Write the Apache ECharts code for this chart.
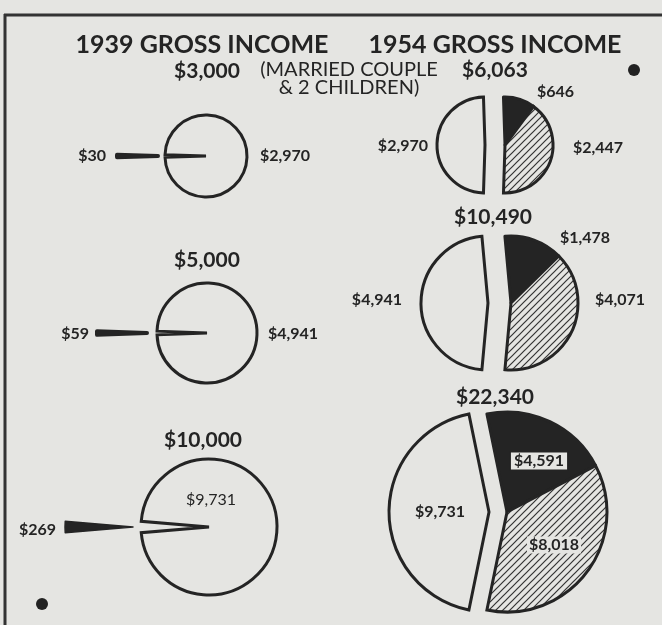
<!DOCTYPE html>
<html>
<head>
<meta charset="utf-8">
<script src="https://cdn.jsdelivr.net/npm/echarts@6/dist/echarts.min.js"></script>
<style>
  html, body { margin: 0; padding: 0; background: #e5e5e2; }
  #main { width: 662px; height: 625px; }
</style>
</head>
<body>
<div id="main"></div>
<script>
// 1939 incomes: what is kept and what goes in tax
const incomes1939 = [3000, 5000, 10000];
const kept1939 = [2970, 4941, 9731];
const tax1939 = [30, 59, 269];

// 1954 incomes needed for the same family: kept + tax + extra
const incomes1954 = [6063, 10490, 22340];
const kept1954 = [2970, 4941, 9731];
const tax1954 = [646, 1478, 4591];
const extra1954 = [2447, 4071, 8018];

const headings = ['1939 GROSS INCOME', '1954 GROSS INCOME'];
const note = ['(MARRIED COUPLE', '& 2 CHILDREN)'];

const PAPER = '#e5e5e2';
const INK = '#242424';
const fmt = v => '$' + v.toLocaleString('en-US');

// layout
const leftCenters = [[206, 156], [207, 333], [209, 527]];
const leftRadii = [41, 50, 68];
const leftOffsets = [48, 60, 76];
const wedgeBorder = [4, 4, 1.5];
const rightY = [145, 303, 512];
const rightCxL = [485, 488, 489];
const rightCxR = [505, 511, 507];
const rightRadii = [48, 67, 100];

function makeHatch() {
  const s = 7;
  const c = document.createElement('canvas');
  c.width = s; c.height = s;
  const g = c.getContext('2d');
  g.fillStyle = PAPER;
  g.fillRect(0, 0, s, s);
  g.strokeStyle = '#333';
  g.lineWidth = 1.2;
  g.beginPath();
  g.moveTo(-1, s + 1); g.lineTo(s + 1, -1);
  g.moveTo(-1, 1); g.lineTo(1, -1);
  g.moveTo(s - 1, s + 1); g.lineTo(s + 1, s - 1);
  g.stroke();
  return c;
}
const hatch = { image: makeHatch(), repeat: 'repeat' };
const hidden = { color: 'rgba(0,0,0,0)', borderWidth: 0 };
const base = {
  type: 'pie', silent: true, animation: false,
  label: { show: false }, labelLine: { show: false },
  emphasis: { disabled: true }
};

const series = [];
incomes1939.forEach((total, i) => {
  const smallDeg = tax1939[i] / (tax1939[i] + kept1939[i]) * 360;
  const black = { color: INK, borderColor: INK, borderWidth: wedgeBorder[i] };
  series.push(Object.assign({}, base, {
    center: leftCenters[i], radius: [0, leftRadii[i]],
    startAngle: 180 + smallDeg / 2,
    selectedMode: 'multiple', selectedOffset: leftOffsets[i],
    data: [
      { value: tax1939[i], selected: true, itemStyle: black, select: { itemStyle: black } },
      { value: kept1939[i], itemStyle: { color: PAPER, borderColor: INK, borderWidth: 3, borderJoin: 'miter' } }
    ]
  }));
});

incomes1954.forEach((total, i) => {
  const whiteDeg = kept1954[i] / total * 360;
  const start = 180 - whiteDeg / 2;
  // left piece (white)
  series.push(Object.assign({}, base, {
    center: [rightCxL[i], rightY[i]], radius: [0, rightRadii[i]], startAngle: start,
    data: [
      { value: tax1954[i], itemStyle: hidden },
      { value: extra1954[i], itemStyle: hidden },
      { value: kept1954[i], itemStyle: { color: PAPER, borderColor: INK, borderWidth: 3, borderJoin: 'miter' } }
    ]
  }));
  // right piece (black + hatched)
  series.push(Object.assign({}, base, {
    center: [rightCxR[i], rightY[i]], radius: [0, rightRadii[i]], startAngle: start,
    data: [
      { value: tax1954[i], itemStyle: { color: INK, borderColor: INK, borderWidth: 3 } },
      { value: extra1954[i], itemStyle: { color: hatch, borderColor: INK, borderWidth: 3, borderJoin: 'miter' } },
      { value: kept1954[i], itemStyle: hidden }
    ]
  }));
});

function txt(x, y, text, size, weight, align, extra) {
  return {
    type: 'text', x: x, y: y, silent: true, z: 10,
    style: Object.assign({
      text: text, fill: INK,
      font: weight + ' ' + size + 'px Lato',
      align: align || 'center', verticalAlign: 'middle',
      textAlign: align || 'center', textVerticalAlign: 'middle'
    }, extra || {})
  };
}

const graphics = [
  { type: 'line', shape: { x1: 4, y1: 15, x2: 662, y2: 15 }, style: { stroke: '#333', lineWidth: 3 } },
  { type: 'line', shape: { x1: 5, y1: 14, x2: 5, y2: 625 }, style: { stroke: '#333', lineWidth: 3 } },
  { type: 'circle', shape: { cx: 634, cy: 70, r: 6 }, style: { fill: '#222' } },
  { type: 'circle', shape: { cx: 42, cy: 604, r: 6 }, style: { fill: '#222' } },

  txt(202, 45, headings[0], 25, 'bold'),
  txt(495, 45, headings[1], 25, 'bold'),
  txt(349, 70, note[0], 20, 'normal'),
  txt(349, 88, note[1], 20, 'normal'),

  // 1939 totals and pieces
  txt(207, 71, fmt(incomes1939[0]), 21, 'bold'),
  txt(207, 260, fmt(incomes1939[1]), 21, 'bold'),
  txt(203, 440, fmt(incomes1939[2]), 21, 'bold'),
  txt(106, 156, fmt(tax1939[0]), 16, 'bold', 'right'),
  txt(89, 334, fmt(tax1939[1]), 16, 'bold', 'right'),
  txt(56, 530, fmt(tax1939[2]), 16, 'bold', 'right'),
  txt(260, 156, fmt(kept1939[0]), 16, 'bold', 'left'),
  txt(268, 334, fmt(kept1939[1]), 16, 'bold', 'left'),
  txt(211, 500, fmt(kept1939[2]), 16, 'normal'),

  // 1954 totals and pieces
  txt(495, 70, fmt(incomes1954[0]), 21, 'bold'),
  txt(493, 217, fmt(incomes1954[1]), 21, 'bold'),
  txt(495, 397, fmt(incomes1954[2]), 21, 'bold'),
  txt(428, 146, fmt(kept1954[0]), 16, 'bold', 'right'),
  txt(402, 300, fmt(kept1954[1]), 16, 'bold', 'right'),
  txt(440, 512, fmt(kept1954[2]), 16, 'bold'),
  txt(537, 92, fmt(tax1954[0]), 16, 'bold', 'left'),
  txt(560, 238, fmt(tax1954[1]), 16, 'bold', 'left'),
  txt(539, 461, fmt(tax1954[2]), 16, 'bold', 'center',
    { backgroundColor: PAPER, borderColor: INK, borderWidth: 1.5, padding: [1, 3, 0, 3] }),
  txt(573, 148, fmt(extra1954[0]), 16, 'bold', 'left'),
  txt(595, 300, fmt(extra1954[1]), 16, 'bold', 'left'),
  txt(554, 545, fmt(extra1954[2]), 16, 'bold', 'center',
    { backgroundColor: PAPER, padding: [1, 2, 0, 2] })
];

const chart = echarts.init(document.getElementById('main'));
chart.setOption({
  backgroundColor: PAPER,
  animation: false,
  series: series,
  graphic: graphics
});
</script>
</body>
</html>
